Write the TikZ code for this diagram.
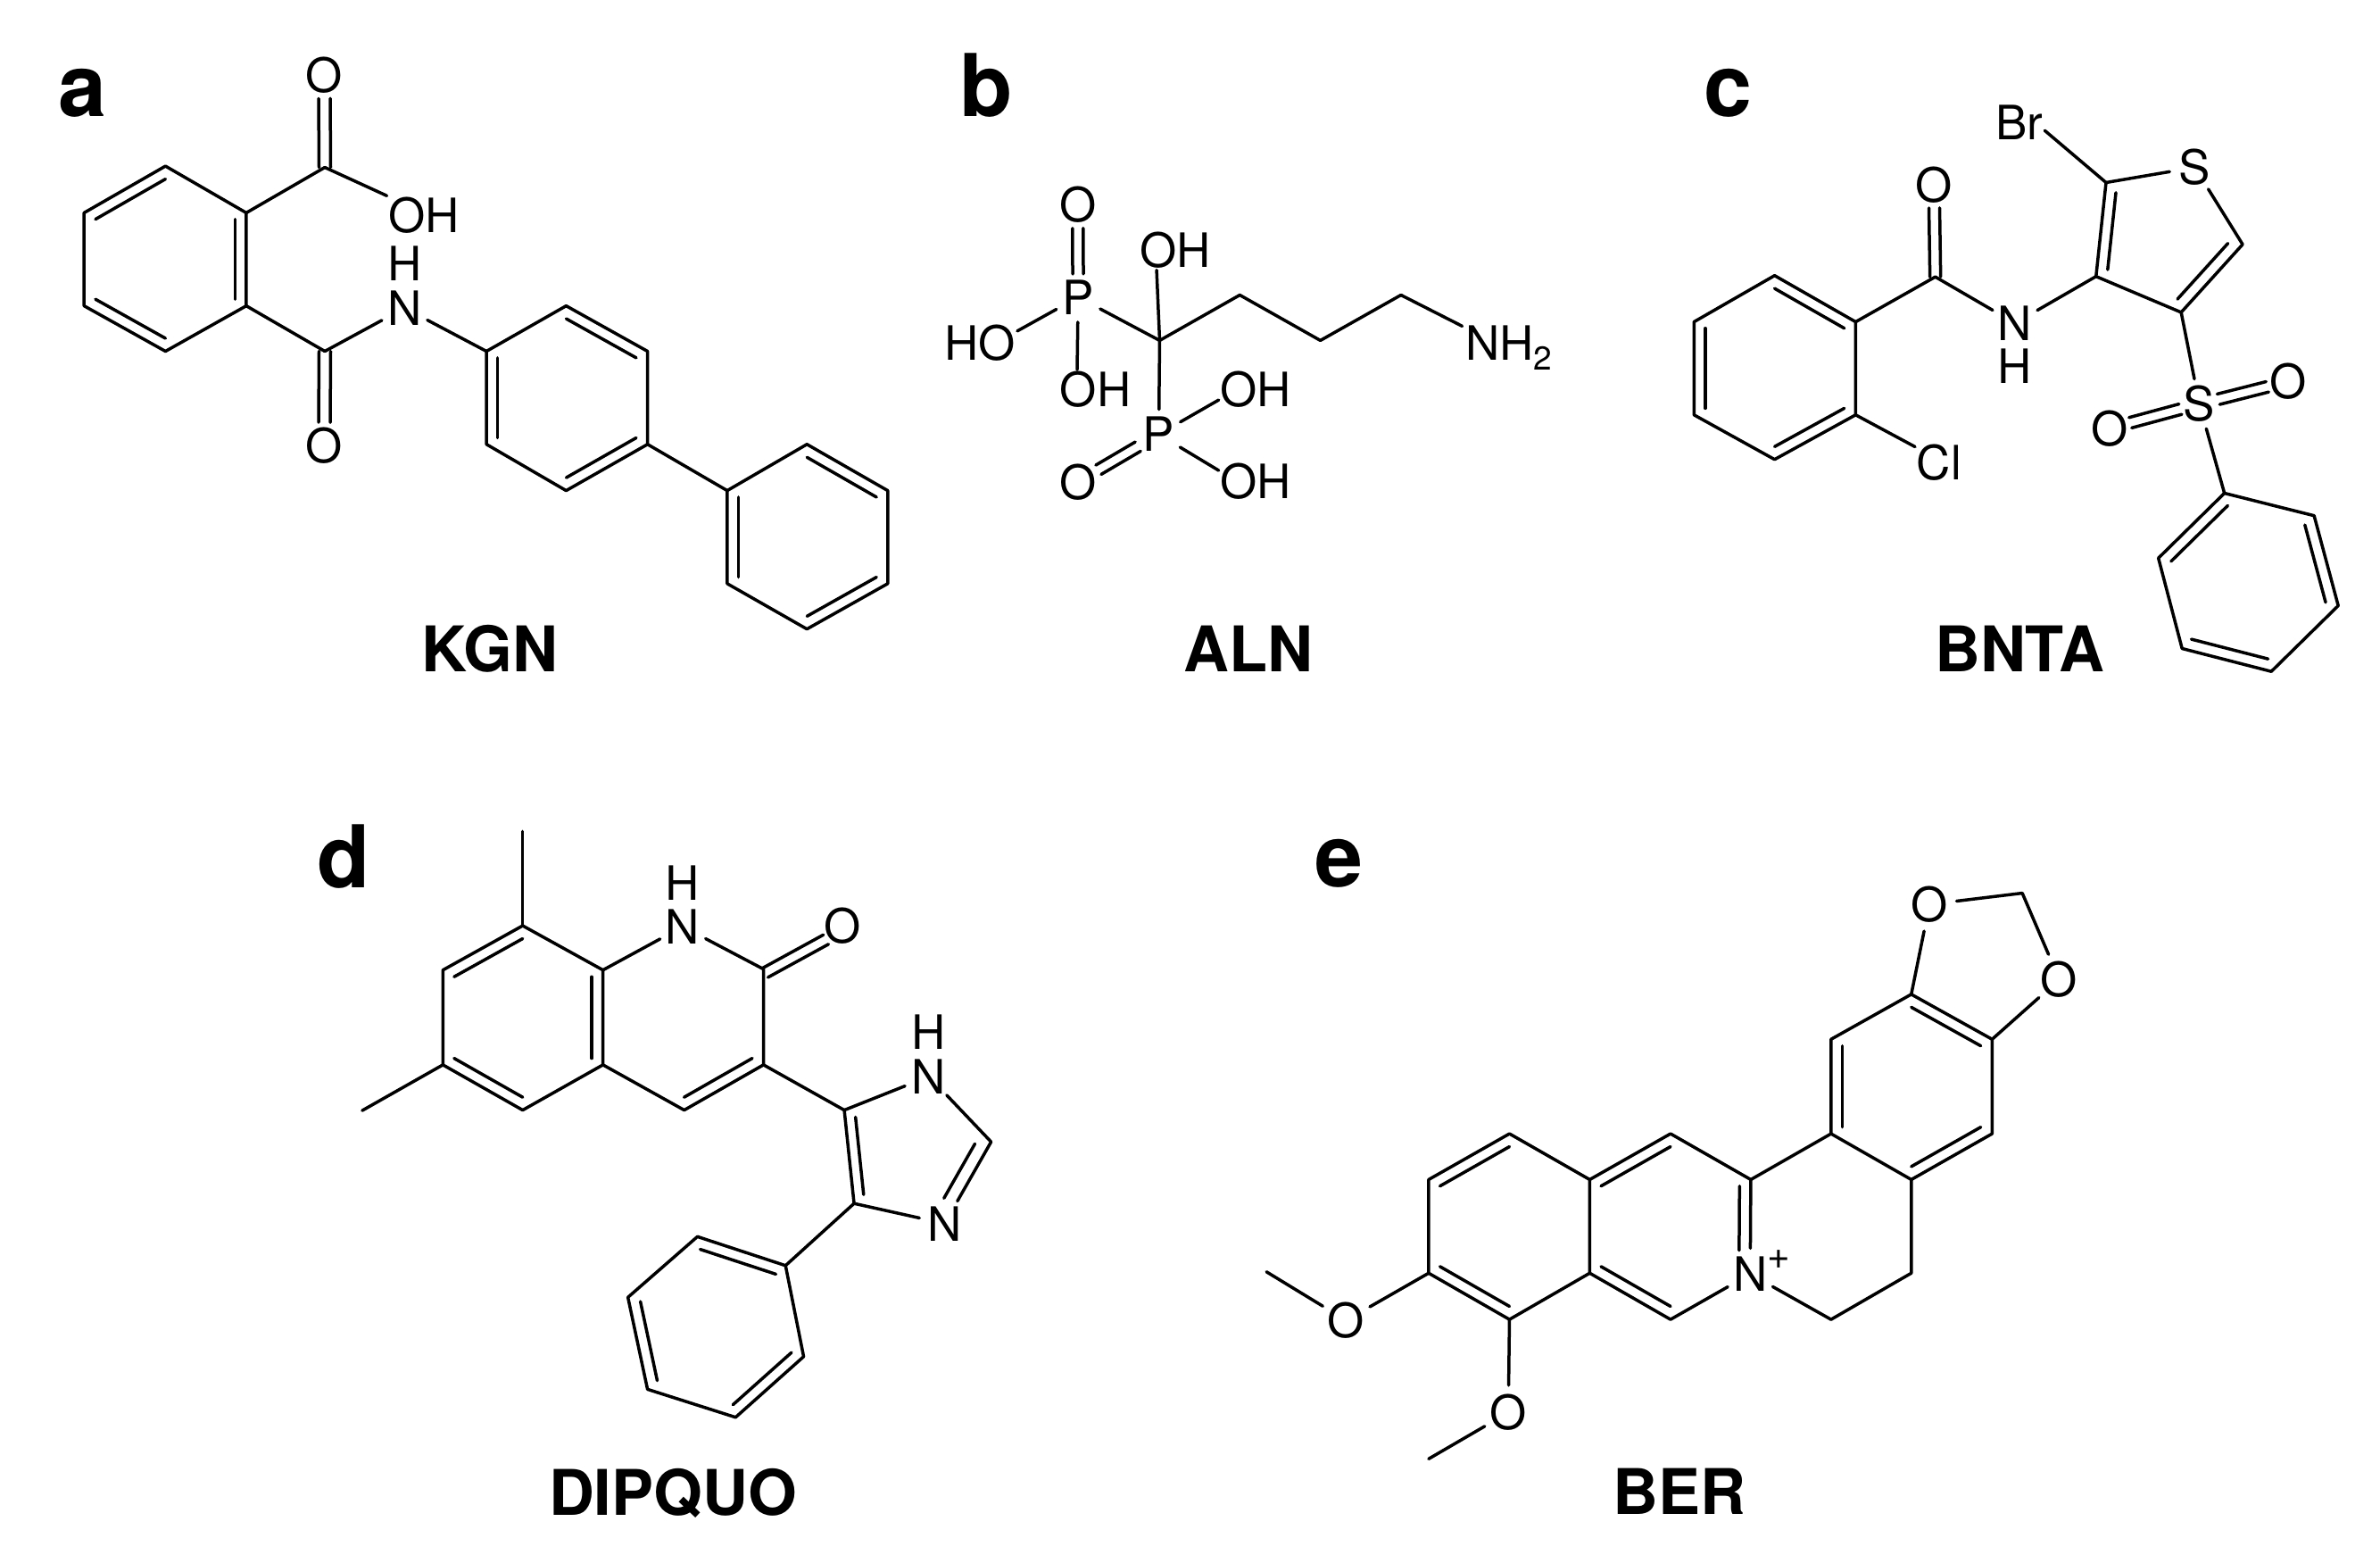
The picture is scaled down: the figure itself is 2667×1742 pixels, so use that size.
\documentclass[tikz,border=0pt]{standalone}
\usepackage{fontspec}
\setmainfont{TeX Gyre Heros}
\usetikzlibrary{calc}
\newcommand\atomfont{\fontsize{53bp}{60bp}\selectfont}
\newcommand\namefont{\fontsize{70.5bp}{80bp}\selectfont\bfseries}
\newcommand\panelfont{\fontsize{97bp}{110bp}\selectfont\bfseries}
% inner line of a ring double bond: the bond a-b pulled towards the ring centre c
\newcommand\ibond[5][]{\draw[#1] ($(#3)!#2!(#5)$) -- ($(#4)!#2!(#5)$);}
% two parallel lines between a and b: radii ra, rb kept free, offsets o1, o2
\newcommand\dbond[6]{%
  \draw ($(#1)!#3!(#2)!#5!90:(#2)$) -- ($(#2)!#4!(#1)!#5!-90:(#1)$);
  \draw ($(#1)!#3!(#2)!#6!90:(#2)$) -- ($(#2)!#4!(#1)!#6!-90:(#1)$);}
\tikzset{
  bond/.style={line width=3.5bp,line cap=round,line join=round},
  atom/.style={circle,inner sep=0pt,font=\atomfont},
  grp/.style={rectangle,inner sep=0pt,font=\atomfont},
  compound/.style={anchor=base,inner sep=0pt,font=\namefont},
  panel/.style={anchor=base,inner sep=0pt,font=\panelfont}
}
\begin{document}
\begin{tikzpicture}[x=1bp,y=-1bp,bond]
\fill[white] (0,0) rectangle (2667,1742);
\useasboundingbox (0,0) rectangle (2667,1742);

% ---------- a: KGN ----------
\begin{scope}[shift={(40,30)},x=.6378bp,y=-.4847bp]
\node[panel] (la) at (82,207) {a};
\node[compound] (na) at (798,1491) {KGN};
\foreach \n/\p in {a1/{228,322},a2/{370,430},a3/{370,645},a4/{228,750},a5/{85,645},a6/{85,430},ac/{228,536},
  c7/{508,325},c8/{508,750},
  b1/{792,750},b2/{932,645},b3/{1075,750},b4/{1075,965},b5/{932,1072},b6/{792,965},bc/{933,858},
  d1/{1215,1072},d2/{1355,965},d3/{1497,1072},d4/{1497,1287},d5/{1355,1392},d6/{1215,1287},dc/{1356,1180}}
  {\coordinate (\n) at (\p);}
\node[atom] (ao1) at (507,112) {O};
\node[grp] (aoh) at (682,436) {OH};
\node[atom] (ao2) at (507,968) {O};
\node[atom] (an) at (648,650) {N};
\node[grp] (ah) at (648,548) {H};
\draw (a1)--(a2)--(a3)--(a4)--(a5)--(a6)--cycle;
\ibond{.14}{a1}{a6}{ac}\ibond{.14}{a2}{a3}{ac}\ibond{.14}{a4}{a5}{ac}
\draw (a2)--(c7); \draw (a3)--(c8);
\dbond{c7}{ao1}{0bp}{26bp}{6.5bp}{-6.5bp}
\dbond{c8}{ao2}{0bp}{26bp}{6.5bp}{-6.5bp}
\draw (c7)--(aoh.north west);
\draw (c8)--(an); \draw (an)--(b1);
\draw (b1)--(b2)--(b3)--(b4)--(b5)--(b6)--cycle;
\ibond{.14}{b2}{b3}{bc}\ibond{.14}{b1}{b6}{bc}\ibond{.14}{b4}{b5}{bc}
\draw (b4)--(d1);
\draw (d1)--(d2)--(d3)--(d4)--(d5)--(d6)--cycle;
\ibond{.14}{d2}{d3}{dc}\ibond{.14}{d1}{d6}{dc}\ibond{.14}{d4}{d5}{dc}
\end{scope}

% ---------- b: ALN ----------
\begin{scope}[shift={(1000,30)},x=.5102bp,y=-.4847bp]
\node[panel] (lb) at (207,207) {b};
\node[compound] (nb) at (782,1491) {ALN};
\foreach \n/\p in {k/{587,725},k2/{763,620},k3/{940,725},k4/{1117,620}}
  {\coordinate (\n) at (\p);}
\node[atom] (bp1) at (408,625) {P};
\node[atom] (bp2) at (585,942) {P};
\node[atom] (bo1) at (407,410) {O};
\node[atom] (bo2) at (407,1052) {O};
\node[grp] (bho) at (193,731) {HO};
\node[grp] (boh1) at (622,517) {OH};
\node[grp] (boh2) at (446,838) {OH};
\node[grp] (boh3) at (798,838) {OH};
\node[grp] (boh4) at (798,1050) {OH};
\node[grp,anchor=base west] (bnh) at (1255,770) {NH\lower.22em\hbox{\fontsize{37bp}{40bp}\selectfont 2}};
\dbond{bp1}{bo1}{26bp}{27bp}{6bp}{-6bp}
\dbond{bp2}{bo2}{27bp}{27bp}{6bp}{-6bp}
\draw (bp1)--(bho.18);
\draw (bp1)--(boh2.133.5);
\draw (bp1)--(k);
\draw (k)--(boh1.226.5);
\draw (k)--(k2)--(k3)--(k4);
\draw[shorten >=2bp] (k4)--(bnh.155);
\draw (k)--(bp2);
\draw (bp2)--(boh3.196);
\draw (bp2)--(boh4.164);
\end{scope}

% ---------- c: BNTA ----------
\begin{scope}[shift={(1860,30)},x=.5102bp,y=-.4847bp]
\node[panel] (lc) at (150,207) {c};
\node[compound] (nc) at (790,1491) {BNTA};
\foreach \n/\p in {r1/{252,575},r2/{430,682},r3/{430,897},r4/{252,1000},r5/{75,897},r6/{75,682},rc/{252,788},
  c1/{605,578},t1/{980,360},t2/{958,577},t3/{1280,503},t4/{1145,660},tc/{1100,490},
  p1/{1240,1078},p2/{1437,1130},p3/{1490,1338},p4/{1343,1490},p5/{1147,1437},p6/{1095,1228},pc/{1292,1283}}
  {\coordinate (\n) at (\p);}
\node[atom] (co1) at (602,365) {O};
\node[atom] (cn) at (780,685) {N};
\node[grp] (ch) at (780,785) {H};
\node[grp] (ccl) at (613,1008) {Cl};
\node[grp] (cbr) at (790,222) {Br};
\node[atom] (cs1) at (1175,325) {S};
\node[atom] (cs2) at (1185,872) {S};
\node[atom] (co2) at (1380,820) {O};
\node[atom] (co3) at (988,928) {O};
\draw (r1)--(r2)--(r3)--(r4)--(r5)--(r6)--cycle;
\ibond{.14}{r1}{r2}{rc}\ibond{.14}{r3}{r4}{rc}\ibond{.14}{r5}{r6}{rc}
\draw (r2)--(c1);
\dbond{c1}{co1}{0bp}{26bp}{6bp}{-6bp}
\draw (c1)--(cn); \draw (cn)--(t2);
\draw (r3)--(ccl.146);
\draw (t1)--(cbr.-17);
\draw (t1)--(cs1); \draw (cs1)--(t3)--(t4)--(t2)--(t1);
\ibond{.18}{t1}{t2}{tc}\ibond{.18}{t3}{t4}{tc}
\draw (t4)--(cs2);
\dbond{cs2}{co2}{22bp}{24bp}{6bp}{-6bp}
\dbond{cs2}{co3}{22bp}{24bp}{6bp}{-6bp}
\draw (cs2)--(p1);
\draw (p1)--(p2)--(p3)--(p4)--(p5)--(p6)--cycle;
\ibond{.14}{p1}{p6}{pc}\ibond{.14}{p2}{p3}{pc}\ibond{.14}{p4}{p5}{pc}
\end{scope}

% ---------- d: DIPQUO ----------
\begin{scope}[shift={(340,900)},x=.5485bp,y=-.5230bp]
\node[panel] (ld) at (82,180) {d};
\node[compound] (nd) at (755,1524) {DIPQUO};
\foreach \n/\p in {q1/{448,262},q2/{612,357},q3/{612,560},q4/{448,657},q5/{285,560},q6/{285,357},qc/{448,460},
  me1/{448,60},me2/{120,658},
  q7/{940,355},q8/{940,560},q9/{778,657},qd/{776,460},
  i1/{1105,657},i3/{1405,725},i5/{1125,857},ic/{1240,745},
  s1/{985,990},s2/{805,928},s3/{663,1058},s4/{703,1255},s5/{883,1315},s6/{1022,1185},sc/{845,1122}}
  {\coordinate (\n) at (\p);}
\node[atom] (dn1) at (775,264) {N};
\node[grp] (dh1) at (775,170) {H};
\node[atom] (do) at (1102,262) {O};
\node[atom] (dn2) at (1278,585) {N};
\node[grp] (dh2) at (1278,490) {H};
\node[atom] (dn3) at (1310,900) {N};
\draw (q1)--(q2)--(q3)--(q4)--(q5)--(q6)--cycle;
\ibond{.14}{q1}{q6}{qc}\ibond{.14}{q2}{q3}{qc}\ibond{.14}{q4}{q5}{qc}
\draw (q1)--(me1); \draw (q5)--(me2);
\draw (q2)--(dn1); \draw (dn1)--(q7)--(q8)--(q9)--(q3);
\ibond{.14}{q8}{q9}{qd}
\dbond{q7}{do}{0bp}{24bp}{1.5bp}{-10.5bp}
\draw (q8)--(i1);
\draw (i1)--(dn2); \draw (dn2)--(i3)--(dn3);
\draw (dn3)--(i5)--(i1);
\ibond[shorten >=14bp]{.2}{i3}{dn3}{ic}
\ibond{.17}{i1}{i5}{ic}
\draw (i5)--(s1);
\draw (s1)--(s2)--(s3)--(s4)--(s5)--(s6)--cycle;
\ibond{.14}{s1}{s2}{sc}\ibond{.14}{s3}{s4}{sc}\ibond{.14}{s5}{s6}{sc}
\end{scope}

% ---------- e: BER ----------
\begin{scope}[shift={(1400,930)},x=.6378bp,y=-.5038bp]
\node[panel] (le) at (157,127) {e};
\node[compound] (ne) at (755,1521) {BER};
\foreach \n/\p in {e1/{457,675},e2/{598,777},e3/{598,985},e4/{457,1088},e5/{315,985},e6/{315,777},ec/{457,880},
  e7/{740,675},e8/{881,777},e9/{740,1088},ed/{740,880},
  f1/{1022,675},f2/{1163,777},f3/{1163,985},f4/{1022,1088},
  f5/{1022,465},f6/{1163,365},f7/{1305,465},f8/{1305,675},fc/{1163,570},
  m/{1358,140},me3/{30,982},me4/{315,1398}}
  {\coordinate (\n) at (\p);}
\node[atom] (en) at (880,987) {N};
\node[grp,font=\fontsize{44bp}{50bp}\selectfont] (ep) at (931,955) {+};
\node[atom] (eo1) at (1195,165) {O};
\node[atom] (eo2) at (1423,332) {O};
\node[atom] (eo3) at (170,1090) {O};
\node[atom] (eo4) at (455,1295) {O};
\draw (e1)--(e2)--(e3)--(e4)--(e5)--(e6)--cycle;
\ibond{.14}{e1}{e6}{ec}\ibond{.14}{e4}{e5}{ec}
\draw (e2)--(e7)--(e8); \draw (e8)--(en); \draw (en)--(e9)--(e3);
\ibond{.14}{e2}{e7}{ed}\ibond{.14}{e3}{e9}{ed}
\ibond[shorten >=19bp]{.14}{e8}{en}{ed}
\draw (e8)--(f1)--(f2)--(f3)--(f4); \draw (f4)--(en);
\draw (f1)--(f5)--(f6)--(f7)--(f8)--(f2);
\ibond{.14}{f1}{f5}{fc}\ibond{.14}{f6}{f7}{fc}\ibond{.14}{f2}{f8}{fc}
\draw (f6)--(eo1); \draw (eo1)--(m)--(eo2); \draw (eo2)--(f7);
\draw (e5)--(eo3); \draw (eo3)--(me3);
\draw (e4)--(eo4); \draw (eo4)--(me4);
\end{scope}
\end{tikzpicture}
\end{document}
